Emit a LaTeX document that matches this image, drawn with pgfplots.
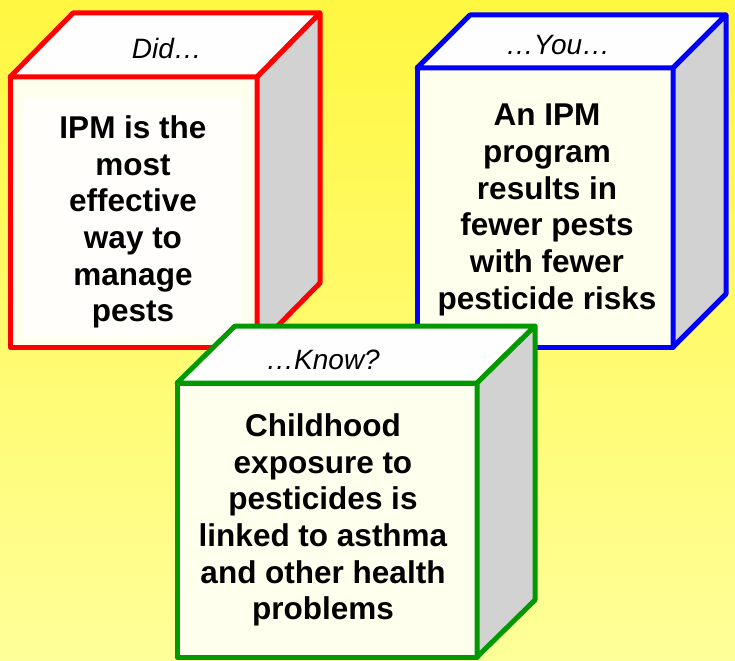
\documentclass[border=0pt]{standalone}
\usepackage{pgfplots}
\pgfplotsset{compat=1.18}
\usepackage{fontspec}
\setmainfont{Liberation Sans}
\definecolor{bgtop}{RGB}{255,247,64}
\definecolor{bgbot}{RGB}{255,255,153}
\definecolor{boxred}{RGB}{255,0,0}
\definecolor{boxblue}{RGB}{0,0,255}
\definecolor{boxgreen}{RGB}{0,153,0}
\definecolor{sidegray}{RGB}{210,210,210}
\definecolor{topwhite}{RGB}{254,254,254}
\definecolor{frontcream}{RGB}{255,255,238}
\definecolor{panelwhite}{RGB}{255,254,250}
\newcommand\bodyfont{\fontsize{31.5bp}{36.7bp}\selectfont\bfseries}
\newcommand\headfont{\fontsize{28bp}{32bp}\selectfont\itshape}
\begin{document}
\begin{tikzpicture}
\begin{axis}[
  width=735bp, height=661bp, scale only axis,
  xmin=0, xmax=735, ymin=0, ymax=661, y dir=reverse,
  hide axis, clip=false,
  every axis plot/.append style={line join=round, line width=5bp},
]
% background
\addplot[draw=none, top color=bgtop, bottom color=bgbot] coordinates {(0,0) (735,0) (735,661) (0,661)} -- cycle;
% ---- red box: L=10 T=77 R=257 B=347 dx=63 dy=64
\addplot[draw=boxred, fill=frontcream] coordinates {(10,77) (257,77) (257,347) (10,347)} -- cycle;
\addplot[draw=none, fill=panelwhite, line width=0pt] coordinates {(23,98) (242,98) (242,337) (23,337)} -- cycle;
\addplot[draw=boxred, fill=topwhite] coordinates {(10,77) (73,13) (320,13) (257,77)} -- cycle;
\addplot[draw=boxred, fill=sidegray] coordinates {(257,77) (320,13) (320,283) (257,347)} -- cycle;
% ---- blue box: L=417 T=68 R=673 B=347 dx=53 dy=53
\addplot[draw=boxblue, fill=frontcream] coordinates {(417,68) (673,68) (673,347) (417,347)} -- cycle;
\addplot[draw=boxblue, fill=topwhite] coordinates {(417,68) (470,15) (726,15) (673,68)} -- cycle;
\addplot[draw=boxblue, fill=sidegray] coordinates {(673,68) (726,15) (726,294) (673,347)} -- cycle;
% ---- green box: L=177 T=383 R=477 B=657 dx=58 dy=57
\addplot[draw=boxgreen, fill=frontcream] coordinates {(177,383) (477,383) (477,657) (177,657)} -- cycle;
\addplot[draw=boxgreen, fill=topwhite] coordinates {(177,383) (235,326) (535,326) (477,383)} -- cycle;
\addplot[draw=boxgreen, fill=sidegray] coordinates {(477,383) (535,326) (535,600) (477,657)} -- cycle;
% text
\node[font=\headfont, anchor=base] at (axis cs:167,59) {Did…};
\node[font=\headfont, anchor=base] at (axis cs:558,55) {…You…};
\node[font=\headfont, anchor=base] at (axis cs:323,369) {…Know?};
\node[font=\bodyfont, align=center] at (axis cs:133,222) {IPM is the\\most\\effective\\way to\\manage\\pests};
\node[font=\bodyfont, align=center] at (axis cs:547,210) {An IPM\\program\\results in\\fewer pests\\with fewer\\pesticide risks};
\node[font=\bodyfont, align=center] at (axis cs:323,520) {Childhood\\exposure to\\pesticides is\\linked to asthma\\and other health\\problems};
\end{axis}
\end{tikzpicture}
\end{document}
